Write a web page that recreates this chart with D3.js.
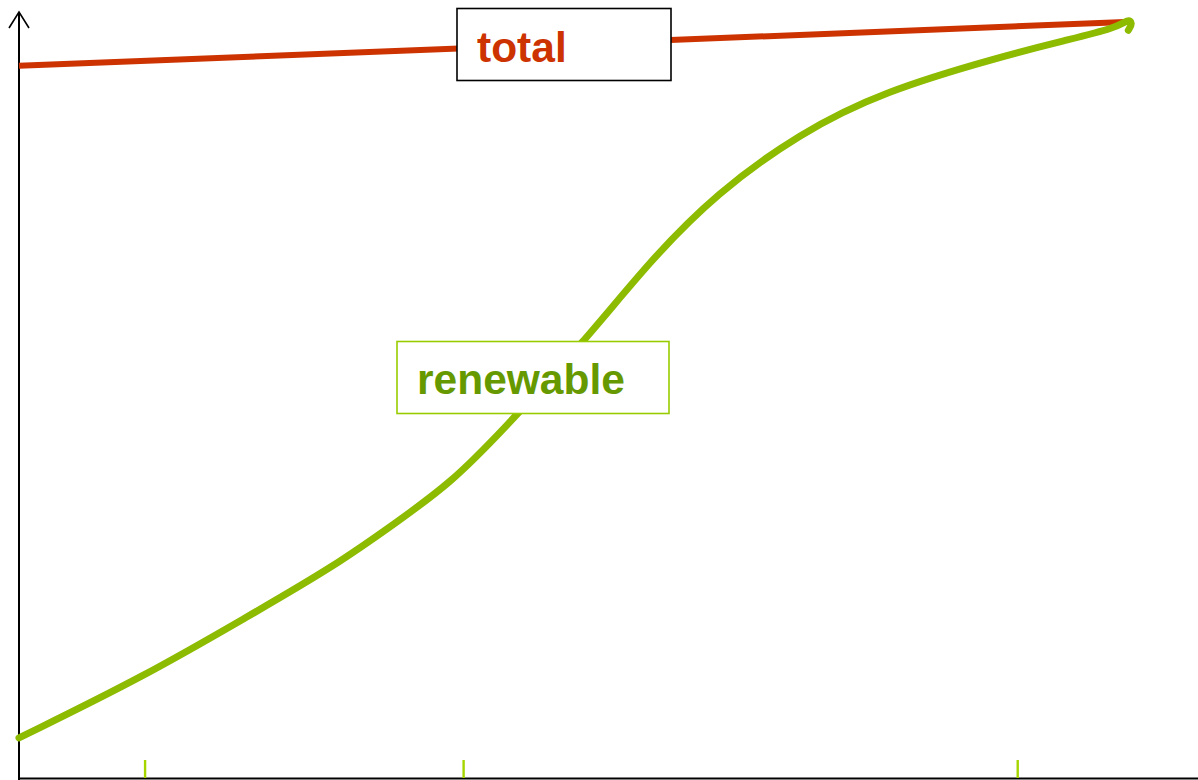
<!DOCTYPE html>
<html><head><meta charset="utf-8">
<script src="https://cdn.jsdelivr.net/npm/d3@7"></script>
<style>html,body{margin:0;padding:0;background:#fff;}svg{display:block;}</style>
</head><body>
<svg id="c" width="1198" height="780"></svg>
<script>
// Data (arbitrary units: x = time 0..100, y = share 0..100)
const totalX = [0, 100];
const totalY = [94.2, 100];
const renewX = [0, 11.4, 20.6, 28.4, 34.4, 39.0, 43.5, 51.2, 57.1, 63.1, 70.6, 78.1, 88.7, 94.7, 99.2, 100.3, 100.7, 100.3];
const renewY = [5.3, 13.5, 21.3, 27.9, 34.1, 39.0, 45.6, 57.9, 68.5, 77.4, 85.3, 90.8, 95.4, 97.6, 99.2, 100.4, 99.9, 98.9];
const tickValues = [11.4, 40.2, 90.3];
const labels = ["total", "renewable"];

const svg = d3.select("#c");
const x = d3.scaleLinear().domain([0, 100]).range([19, 1125]);
const y = d3.scaleLinear().domain([0, 100]).range([778, 22]);

// axes
svg.append("line").attr("x1", 19).attr("x2", 1198).attr("y1", 778.5).attr("y2", 778.5)
  .attr("stroke", "#000").attr("stroke-width", 2);
svg.append("line").attr("x1", 19).attr("x2", 19).attr("y1", 12).attr("y2", 780)
  .attr("stroke", "#000").attr("stroke-width", 2);
svg.append("path").attr("d", "M9,28 L19,12 L29,28").attr("fill", "none")
  .attr("stroke", "#000").attr("stroke-width", 1.6);

// ticks
svg.selectAll("line.tick").data(tickValues).enter().append("line")
  .attr("class", "tick")
  .attr("x1", d => x(d)).attr("x2", d => x(d))
  .attr("y1", 760).attr("y2", 778)
  .attr("stroke", "#a6d600").attr("stroke-width", 2.4);

// total line
const totalData = totalX.map((v, i) => [v, totalY[i]]);
svg.append("path").datum(totalData)
  .attr("d", d3.line().x(d => x(d[0])).y(d => y(d[1])))
  .attr("fill", "none").attr("stroke", "#cc3300").attr("stroke-width", 6);

// renewable line
const renewData = renewX.map((v, i) => [v, renewY[i]]);
svg.append("path").datum(renewData)
  .attr("d", d3.line().curve(d3.curveBasis).x(d => x(d[0])).y(d => y(d[1])))
  .attr("fill", "none").attr("stroke", "#8cbb00").attr("stroke-width", 7)
  .attr("stroke-linecap", "round").attr("stroke-linejoin", "round");

// label boxes
svg.append("rect").attr("x", 457).attr("y", 8.5).attr("width", 214).attr("height", 72)
  .attr("fill", "#fff").attr("stroke", "#000").attr("stroke-width", 1.6);
svg.append("text").attr("x", 477).attr("y", 62).text(labels[0])
  .attr("font-family", "Liberation Sans, Arial, sans-serif").attr("font-weight", "bold")
  .attr("font-size", 42.5).attr("fill", "#cc3300");

svg.append("rect").attr("x", 397).attr("y", 341.5).attr("width", 272).attr("height", 72)
  .attr("fill", "#fff").attr("stroke", "#99cc00").attr("stroke-width", 1.6);
svg.append("text").attr("x", 417).attr("y", 394).text(labels[1])
  .attr("font-family", "Liberation Sans, Arial, sans-serif").attr("font-weight", "bold")
  .attr("font-size", 42.5).attr("fill", "#669900");
</script>
</body></html>
